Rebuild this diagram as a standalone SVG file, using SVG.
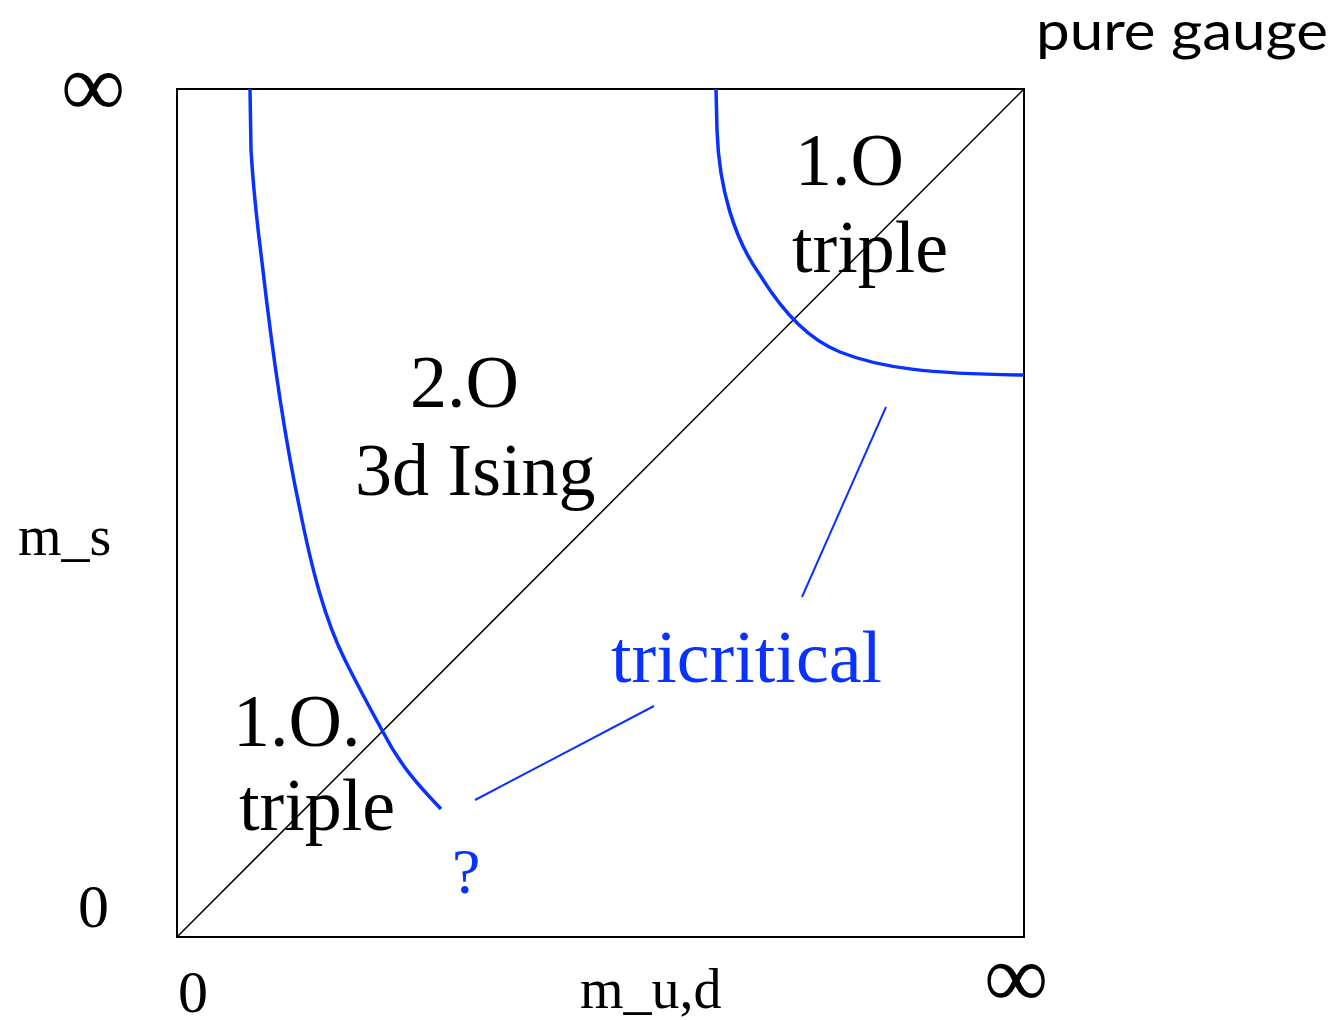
<svg xmlns="http://www.w3.org/2000/svg" width="1340" height="1020" viewBox="0 0 1340 1020">
<style>
.t{font-family:"Liberation Serif","Times New Roman",serif;fill:#000}
.b{fill:#0a32ff}
.big{font-size:74px}
.mid{font-size:56px}
.curve{fill:none;stroke:#0a32ff;stroke-width:3.5}
.thin{fill:none;stroke:#0a32ff;stroke-width:2}
</style>
<rect width="1340" height="1020" fill="#fff"/>
<g id="frame">
<rect x="177" y="89" width="847" height="848" fill="none" stroke="#000" stroke-width="2"/>
<line x1="177" y1="937" x2="1024" y2="89" stroke="#000" stroke-width="1.5"/>
</g>
<g id="connectors">
<path class="curve" d="M250,89 L251,150 C254,200 258,230 262,262 C272,350 285,440 300,510 C312,570 325,620 345,660 C360,690 372,712 383,732 C400,765 418,785 441,809"/>
<path class="curve" d="M716,89 L717,130 C719,190 735,240 760,275 C785,315 810,340 840,352 C880,368 930,374 1024,375"/>
<line class="thin" x1="886" y1="407" x2="802" y2="597"/>
<line class="thin" x1="654" y1="706" x2="475" y2="800"/>
</g>
<g id="labels">
<text class="t big" x="795" y="185">1.O</text>
<text class="t big" x="792" y="272">triple</text>
<text class="t big" x="410" y="407">2.O</text>
<text class="t big" x="355" y="495">3d Ising</text>
<text class="t big" x="233" y="746">1.O.</text>
<text class="t big" x="239" y="830">triple</text>
<text class="t big b" x="611" y="682">tricritical</text>
<text class="t b" x="452" y="893" font-size="64">?</text>
<text class="t" x="61" y="116" font-size="90">∞</text>
<text class="t" x="984" y="1007" font-size="90">∞</text>
<text class="t" x="78" y="927" font-size="62">0</text>
<text class="t" x="178" y="1012" font-size="60">0</text>
<text class="t mid" x="18" y="555">m_s</text>
<text class="t mid" x="580" y="1008">m_u,d</text>
<text x="1036" y="50" font-family="Lato,'Open Sans',sans-serif" font-size="55" textLength="292" lengthAdjust="spacingAndGlyphs">pure gauge</text>
</g>
</svg>
